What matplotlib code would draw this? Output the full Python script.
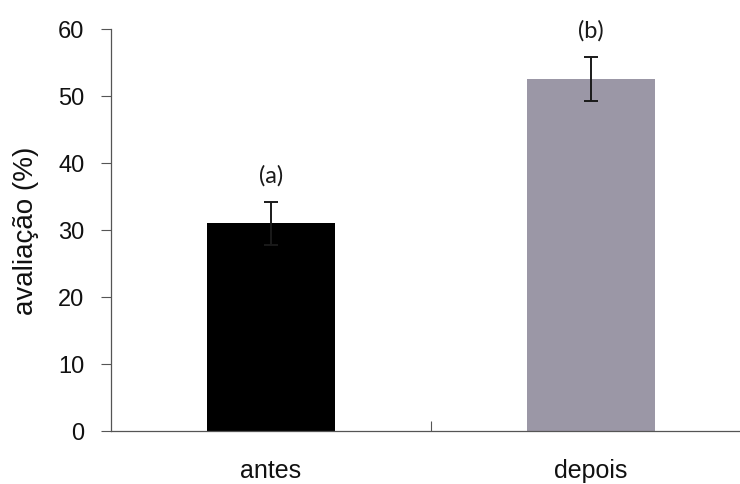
import matplotlib.pyplot as plt
import numpy as np

categories = ["antes", "depois"]
values = [31.0, 52.5]
errors = [3.2, 3.3]
letters = ["(a)", "(b)"]
colors = ["#000000", "#9b97a6"]

plt.rcParams["font.family"] = ["Liberation Sans", "DejaVu Sans"]

fig = plt.figure(figsize=(7.4, 4.85), dpi=100)
ax = fig.add_axes([0.15, 0.1093, 0.865, 0.829])

x = np.arange(len(categories)) + 0.5
ax.bar(x, values, width=0.4, color=colors, zorder=2)

# antes: lower whisker disappears into the black bar
for i, (v, e) in enumerate(zip(values, errors)):
    ax.errorbar(x[i], v, yerr=e, fmt="none", ecolor="#1a1a1a",
                elinewidth=1.4, capsize=5, capthick=1.4, zorder=3)
    ax.text(x[i], v + e + 4.0, letters[i], ha="center", va="center",
            fontsize=17, family=["Lato", "DejaVu Sans"], color="#1a1a1a")

ax.set_xlim(0, 2)
ax.set_ylim(0, 60)
ax.set_yticks(range(0, 61, 10))
ax.tick_params(axis="y", direction="out", length=7, width=0.8,
               colors="#555555", labelcolor="#111111", labelsize=17, pad=12)
ax.set_xticks([1])
ax.set_xticklabels([""])
ax.tick_params(axis="x", direction="in", length=7, width=0.8, colors="#555555")
for xi, c in zip(x, categories):
    ax.text(xi, -6.9, c, ha="center", va="baseline", fontsize=18,
            color="#111111")
ax.set_ylabel("avaliação (%)", fontsize=20, color="#111111", labelpad=14)

for s in ["top", "right"]:
    ax.spines[s].set_visible(False)
for s in ["left", "bottom"]:
    ax.spines[s].set_color("#555555")
    ax.spines[s].set_linewidth(0.9)

fig.savefig("out.png", dpi=100)
